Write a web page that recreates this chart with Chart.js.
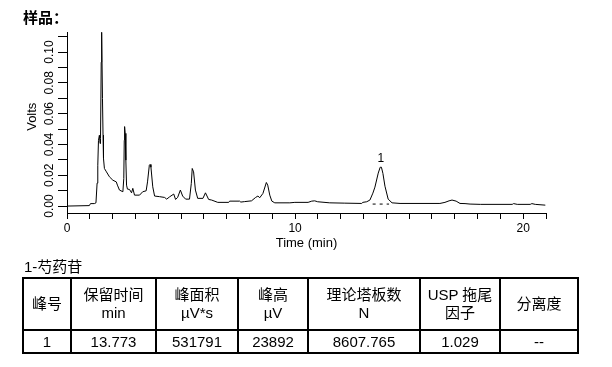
<!DOCTYPE html>
<html>
<head>
<meta charset="utf-8">
<script src="https://cdn.jsdelivr.net/npm/chart.js@4/dist/chart.umd.min.js"></script>
<style>
  html, body { margin:0; padding:0; background:#fff; width:612px; height:367px; overflow:hidden; }
  #wrap { position:relative; width:612px; height:367px; }
  #c { position:absolute; left:0; top:0; }
  #title { position:absolute; left:23px; top:8px; font:bold 15px "Noto Sans CJK SC", sans-serif; color:#000; line-height:18px; }
  #cap { position:absolute; left:24px; top:258px; font:15px "Liberation Sans", "Noto Sans CJK SC", sans-serif; color:#000; line-height:18px; }
  table { position:absolute; left:22px; top:277px; border-collapse:collapse; table-layout:fixed; width:557px;
          font:15px "Liberation Sans", "Noto Sans CJK SC", sans-serif; color:#000; }
  td { border:2px solid #000; text-align:center; vertical-align:middle; padding:0; line-height:18px; }
  tr.h { height:52px; }
  tr.d { height:23px; }
</style>
</head>
<body>
<div id="wrap">
  <canvas id="c" width="612" height="262"></canvas>
  <div id="title">样品：</div>
  <div id="cap">1-芍药苷</div>
  <table id="tbl"></table>
</div>
<script>
// ---- chromatogram data (time in min, signal in Volts) ----
const times = [0, 0.98, 1.03, 1.20, 1.27, 1.32, 1.35, 1.38, 1.42, 1.45, 1.47, 1.50, 1.52, 1.555, 1.58, 1.60, 1.64, 1.73, 1.86, 2.01, 2.16, 2.21, 2.30, 2.45, 2.49, 2.51, 2.525, 2.55, 2.58, 2.61, 2.65, 2.74, 2.83, 2.885, 2.96, 3.18, 3.32, 3.47, 3.53, 3.61, 3.64, 3.68, 3.76, 3.84, 4.06, 4.28, 4.37, 4.50, 4.68, 4.76, 4.85, 4.97, 5.07, 5.20, 5.37, 5.45, 5.49, 5.55, 5.63, 5.73, 5.96, 6.07, 6.21, 6.34, 6.61, 7.09, 7.13, 7.57, 7.62, 7.79, 8.09, 8.27, 8.37, 8.45, 8.59, 8.74, 8.80, 8.89, 8.98, 9.11, 9.77, 9.99, 10.57, 10.73, 10.86, 10.99, 11.52, 12.18, 12.92, 12.97, 13.14, 13.28, 13.41, 13.50, 13.645, 13.73, 13.785, 13.85, 13.94, 14.08, 14.25, 14.60, 16.35, 16.57, 16.75, 16.88, 17.06, 17.23, 17.45, 17.67, 18.12, 19.52, 19.58, 19.74, 20.31, 20.38, 20.53, 20.97];
const volts = [0, 0.0003, 0.0016, 0.0016, 0.0021, 0.0149, 0.0265, 0.0427, 0.0460, 0.0406, 0.0438, 0.0934, 0.1128, 0.0699, 0.046, 0.0309, 0.0244, 0.0222, 0.0190, 0.0168, 0.0157, 0.0136, 0.0104, 0.0093, 0.0179, 0.0427, 0.0516, 0.0472, 0.0298, 0.0136, 0.0110, 0.0108, 0.0086, 0.0115, 0.0071, 0.0071, 0.0093, 0.0099, 0.0157, 0.0265, 0.0270, 0.0252, 0.0125, 0.0065, 0.0061, 0.0056, 0.0045, 0.0060, 0.0078, 0.0043, 0.0056, 0.0104, 0.0065, 0.0045, 0.0045, 0.0147, 0.0244, 0.0222, 0.0104, 0.0050, 0.0050, 0.0086, 0.0043, 0.0039, 0.0024, 0.0024, 0.0032, 0.0032, 0.0026, 0.0029, 0.0034, 0.0056, 0.0065, 0.0054, 0.0082, 0.0153, 0.0136, 0.0071, 0.0032, 0.0021, 0.0021, 0.0024, 0.0024, 0.0032, 0.0034, 0.0028, 0.0021, 0.0019, 0.0017, 0.0024, 0.0028, 0.0039, 0.0084, 0.0123, 0.0214, 0.0252, 0.0252, 0.0212, 0.0129, 0.0045, 0.0021, 0.0017, 0.0017, 0.0024, 0.0034, 0.0039, 0.0032, 0.0017, 0.0016, 0.0013, 0.0011, 0.0011, 0.0016, 0.0011, 0.0011, 0.0016, 0.0011, 0.0006];

// integration baseline under peak 1 (dashed)
const baseTimes = [13.40, 14.12];
const baseVolts = [0.0013, 0.0013];

// peak annotation
const peakTimes = [13.76];
const peakApex = [0.0252];
const peakNames = ['1'];

// axis ticks and titles
const xTickValues = [0,1,2,3,4,5,6,7,8,9,10,11,12,13,14,15,16,17,18,19,20,21];
const xTickLabels = ['0','','','','','','','','','','10','','','','','','','','','','20',''];
const yTickValues = [0,0.01,0.02,0.03,0.04,0.05,0.06,0.07,0.08,0.09,0.10,0.11];
const yTickLabels = ['0.00','','0.02','','0.04','','0.06','','0.08','','0.10',''];
const xTitle = 'Time (min)';
const yTitle = 'Volts';

// results table
const tableHeaders = [['峰号'], ['保留时间','min'], ['峰面积','µV*s'], ['峰高','µV'], ['理论塔板数','N'], ['USP 拖尾','因子'], ['分离度']];
const tableRow = ['1', '13.773', '531791', '23892', '8607.765', '1.029', '--'];
const colWidths = [48, 85, 82, 70, 112, 80, 78];

// build table
const tbl = document.getElementById('tbl');
const cg = document.createElement('colgroup');
colWidths.forEach(w => { const c = document.createElement('col'); c.style.width = w + 'px'; cg.appendChild(c); });
tbl.appendChild(cg);
const trh = document.createElement('tr'); trh.className = 'h';
tableHeaders.forEach(h => { const td = document.createElement('td'); td.innerHTML = h.join('<br>'); trh.appendChild(td); });
tbl.appendChild(trh);
const trd = document.createElement('tr'); trd.className = 'd';
tableRow.forEach(v => { const td = document.createElement('td'); td.textContent = v; trd.appendChild(td); });
tbl.appendChild(trd);

const tickFont = { family: 'Liberation Sans', size: 12 };
const titleFont = { family: 'Liberation Sans', size: 13 };

const annotPlugin = {
  id: 'annot',
  afterDraw(chart) {
    const { ctx, scales: { x, y } } = chart;
    ctx.save();
    ctx.fillStyle = '#000';
    ctx.font = '12px "Liberation Sans"';
    ctx.textAlign = 'center';
    ctx.textBaseline = 'alphabetic';
    peakTimes.forEach((t, i) => {
      ctx.fillText(peakNames[i], x.getPixelForValue(t), y.getPixelForValue(peakApex[i]) - 5);
    });
    // y-axis title
    ctx.font = '13px "Liberation Sans"';
    ctx.textBaseline = 'middle';
    ctx.translate(y.left + 32, y.getPixelForValue(0.058));
    ctx.rotate(-Math.PI / 2);
    ctx.fillText(yTitle, 0, 0);
    ctx.restore();
  }
};

new Chart(document.getElementById('c'), {
  type: 'line',
  data: {
    datasets: [
      { data: times.map((t, i) => ({ x: t, y: volts[i] })), borderColor: '#000', borderWidth: 1, pointRadius: 0, tension: 0, fill: false, clip: false },
      { data: baseTimes.map((t, i) => ({ x: t, y: baseVolts[i] })), borderColor: '#000', borderWidth: 1, borderDash: [3, 4], pointRadius: 0, tension: 0, fill: false }
    ]
  },
  options: {
    responsive: false,
    animation: false,
    devicePixelRatio: 1,
    layout: { padding: { top: 32, right: 66, left: 0, bottom: 0 } },
    plugins: { legend: { display: false }, tooltip: { enabled: false }, title: { display: false } },
    scales: {
      x: {
        type: 'linear', min: 0, max: 21,
        afterBuildTicks: s => { s.ticks = xTickValues.map(v => ({ value: v })); },
        afterFit: s => { s.height = 49; },
        ticks: { autoSkip: false, maxRotation: 0, minRotation: 0, padding: 2, color: '#000', font: tickFont,
                 callback: (v, i) => xTickLabels[i] },
        grid: { drawOnChartArea: false, drawTicks: true, tickLength: 6, color: '#000', tickColor: '#000' },
        border: { display: true, color: '#000', width: 1 },
        title: { display: true, text: xTitle, color: '#000', font: titleFont, padding: { top: 0, bottom: 11 } }
      },
      y: {
        type: 'linear', min: -0.0045, max: 0.113,
        afterBuildTicks: s => { s.ticks = yTickValues.map(v => ({ value: v })); },
        afterFit: s => { s.width = 67; },
        ticks: { autoSkip: false, minRotation: 90, maxRotation: 90, crossAlign: 'center', padding: -3.5, color: '#000', font: tickFont,
                 callback: (v, i) => yTickLabels[i] },
        grid: { drawOnChartArea: false, drawTicks: true, tickLength: 9, color: '#000', tickColor: '#000' },
        border: { display: true, color: '#000', width: 1 },
        title: { display: false }
      }
    }
  },
  plugins: [annotPlugin]
});
</script>
</body>
</html>
